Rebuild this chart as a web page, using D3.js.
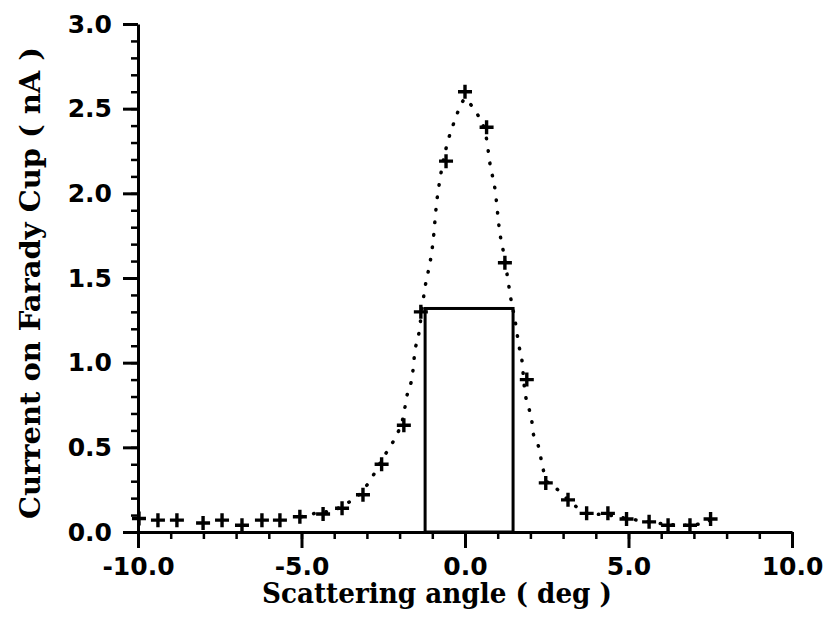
<!DOCTYPE html>
<html>
<head>
<meta charset="utf-8">
<script src="https://cdn.jsdelivr.net/npm/d3@7"></script>
<style>
  body { margin: 0; background: #fff; }
  .tick text { font-family: "DejaVu Sans", sans-serif; font-weight: bold; }
</style>
</head>
<body>
<div id="chart"></div>
<script>
// measured points (+ markers)
const angles = [-9.97, -9.39, -8.81, -8.01, -7.43, -6.82, -6.21, -5.66, -5.05, -4.34, -3.76,
  -3.12, -2.55, -1.87, -1.35, -0.58, 0.0, 0.66, 1.22, 1.89, 2.47, 3.15, 3.72, 4.37,
  4.94, 5.63, 6.21, 6.88, 7.51];
const currents = [0.08, 0.07, 0.07, 0.053, 0.07, 0.04, 0.07, 0.07, 0.09, 0.106, 0.14,
  0.22, 0.40, 0.63, 1.30, 2.19, 2.60, 2.39, 1.59, 0.90, 0.29, 0.19, 0.11, 0.11,
  0.077, 0.06, 0.04, 0.04, 0.077];

// dotted curve
const fitX = [-5.0, -4.6, -4.0, -3.7, -3.3, -2.95, -2.7, -2.5, -2.3, -2.1, -1.9, -1.78, -1.6,
  -1.53, -1.43, -1.3, -1.2, -1.07, -0.98, -0.87, -0.76, -0.52, -0.37, -0.26, -0.11, 0.02,
  0.15, 0.40, 0.66, 0.76, 0.92, 1.07, 1.16, 1.28, 1.40, 1.53, 1.66, 1.73, 1.83, 1.94, 2.04,
  2.09, 2.24, 2.38, 2.47, 2.9, 3.15, 3.4, 3.72, 4.37, 4.94, 5.63, 6.21, 6.88, 7.51];
const fitY = [0.09, 0.11, 0.13, 0.16, 0.21, 0.29, 0.37, 0.44, 0.50, 0.57, 0.67, 0.80, 0.94,
  1.07, 1.15, 1.34, 1.47, 1.59, 1.71, 1.94, 2.09, 2.31, 2.40, 2.46, 2.53, 2.56,
  2.53, 2.46, 2.32, 2.18, 2.02, 1.76, 1.67, 1.53, 1.38, 1.25, 1.09, 1.03, 0.83, 0.74, 0.66,
  0.58, 0.51, 0.38, 0.31, 0.24, 0.19, 0.15, 0.11, 0.10, 0.08, 0.06, 0.045, 0.04, 0.07];

// acceptance window (rectangle)
const windowX = [-1.22, 1.47];
const windowY = 1.32;

const xTicks = [-10, -5, 0, 5, 10];
const yTicks = [0, 0.5, 1.0, 1.5, 2.0, 2.5, 3.0];

const width = 827;
const height = 625;

const svg = d3.select("#chart")
  .append("svg")
  .attr("width", width)
  .attr("height", height);

svg.append("rect").attr("width", width).attr("height", height).attr("fill", "#fff");

const x = d3.scaleLinear().domain([-10, 10]).range([138, 792]);
const y = d3.scaleLinear().domain([0, 3]).range([532, 24]);

// minor ticks
svg.append("g")
  .attr("transform", `translate(0,${y(0)})`)
  .call(d3.axisBottom(x).tickValues(d3.range(-10, 11, 1)).tickSize(7).tickFormat(""))
  .call(g => g.select(".domain").remove())
  .call(g => g.selectAll("line").attr("stroke-width", 2.5));

svg.append("g")
  .attr("transform", `translate(${x(-10)},0)`)
  .call(d3.axisLeft(y).tickValues(d3.range(0, 31, 1).map(d => d / 10)).tickSize(7).tickFormat(""))
  .call(g => g.select(".domain").remove())
  .call(g => g.selectAll("line").attr("stroke-width", 2.5));

// major ticks + labels
svg.append("g")
  .attr("transform", `translate(0,${y(0)})`)
  .call(d3.axisBottom(x).tickValues(xTicks).tickSize(16).tickSizeOuter(0)
    .tickFormat(d => d.toFixed(1)))
  .call(g => g.select(".domain").attr("stroke-width", 3))
  .call(g => g.selectAll("line").attr("stroke-width", 3))
  .call(g => g.selectAll("text").attr("font-size", 25).attr("dy", "0.95em").attr("fill", "#000"));

svg.append("g")
  .attr("transform", `translate(${x(-10)},0)`)
  .call(d3.axisLeft(y).tickValues(yTicks).tickSize(15).tickSizeOuter(0)
    .tickFormat(d => d.toFixed(1)))
  .call(g => g.select(".domain").attr("stroke-width", 3))
  .call(g => g.selectAll("line").attr("stroke-width", 3))
  .call(g => g.selectAll("text").attr("font-size", 25).attr("x", -26).attr("fill", "#000"));

// acceptance rectangle
svg.append("rect")
  .attr("x", x(windowX[0]))
  .attr("y", y(windowY))
  .attr("width", x(windowX[1]) - x(windowX[0]))
  .attr("height", y(0) - y(windowY))
  .attr("fill", "none")
  .attr("stroke", "#000")
  .attr("stroke-width", 3);

// dotted fit curve
const fit = fitX.map((d, i) => [d, fitY[i]]);
svg.append("path")
  .datum(fit)
  .attr("fill", "none")
  .attr("stroke", "#000")
  .attr("stroke-width", 3.5)
  .attr("stroke-linecap", "round")
  .attr("stroke-dasharray", "0.5,12")
  .attr("d", d3.line().x(d => x(d[0])).y(d => y(d[1])).curve(d3.curveMonotoneX));

// plus markers
svg.selectAll(".pt")
  .data(angles)
  .enter()
  .append("path")
  .attr("class", "pt")
  .attr("transform", (d, i) => `translate(${x(d)},${y(currents[i])})`)
  .attr("d", "M-7,0H7M0,-7V7")
  .attr("stroke", "#000")
  .attr("stroke-width", 3.4);

// axis titles
svg.append("text")
  .attr("x", 437)
  .attr("y", 603)
  .attr("text-anchor", "middle")
  .attr("font-family", "DejaVu Serif, serif")
  .attr("font-weight", "bold")
  .attr("font-size", 27)
  .attr("textLength", 350)
  .attr("lengthAdjust", "spacingAndGlyphs")
  .text("Scattering angle ( deg )");

svg.append("text")
  .attr("transform", "translate(40,283) rotate(-90)")
  .attr("text-anchor", "middle")
  .attr("font-family", "DejaVu Serif, serif")
  .attr("font-weight", "bold")
  .attr("font-size", 27)
  .attr("textLength", 472)
  .attr("lengthAdjust", "spacingAndGlyphs")
  .text("Current on Farady Cup ( nA )");
</script>
</body>
</html>
